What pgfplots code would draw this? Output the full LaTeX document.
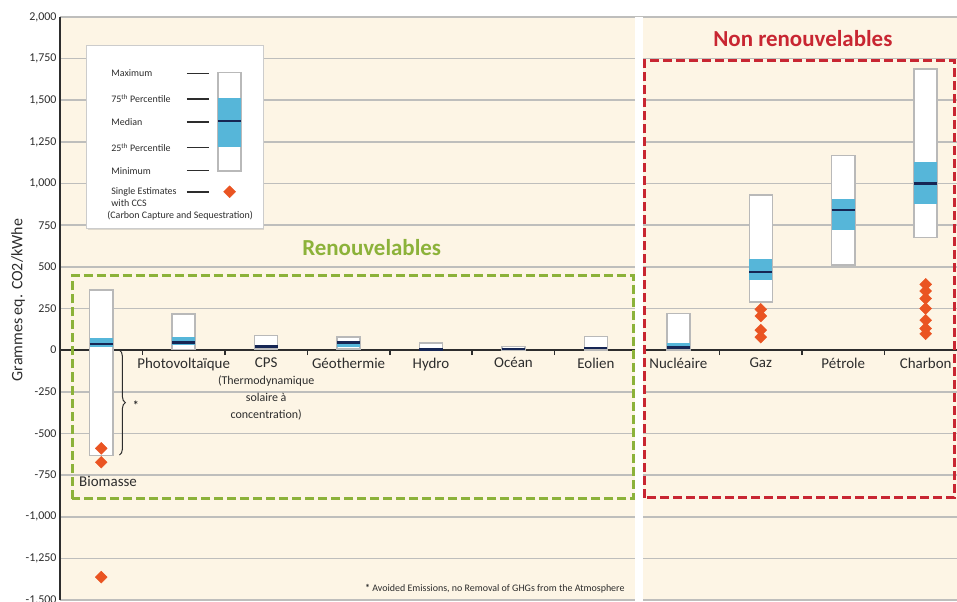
\documentclass[border=0pt]{standalone}
\usepackage{pgfplots}
\pgfplotsset{compat=1.18}
\usepackage{fontspec}
\setmainfont{Carlito}
\usetikzlibrary{decorations.pathreplacing,shadows}
\definecolor{cream}{RGB}{253,245,229}
\definecolor{gridgray}{RGB}{190,190,188}
\definecolor{boxblue}{RGB}{86,182,217}
\definecolor{navy}{RGB}{22,38,84}
\definecolor{diam}{RGB}{234,84,34}
\definecolor{grn}{RGB}{140,178,58}
\definecolor{rd}{RGB}{200,38,50}
\definecolor{boxedge}{RGB}{185,185,185}
\definecolor{txt}{RGB}{45,45,45}

% x min q1 median q3 max
\newcommand{\bx}[6]{%
  \pgfmathsetmacro{\xl}{#1-0.14}\pgfmathsetmacro{\xr}{#1+0.14}%
  \edef\tmpa{\noexpand\addplot[draw=boxedge, fill=white, line width=1.5bp] coordinates {(\xl,#2) (\xr,#2) (\xr,#6) (\xl,#6)} --cycle;}\tmpa
  \edef\tmpb{\noexpand\addplot[draw=none, fill=boxblue] coordinates {(\xl,#3) (\xr,#3) (\xr,#5) (\xl,#5)} --cycle;}\tmpb
  \edef\tmpc{\noexpand\addplot[navy, line width=2.5bp] coordinates {(\xl,#4) (\xr,#4)};}\tmpc
}
\newcommand{\sub}{\fontsize{12}{15}\selectfont}

\begin{document}
\begin{tikzpicture}
\begin{axis}[
  x=82.4bp, y=0.1665bp,
  xmin=-0.5, xmax=10.38, ymin=-1500, ymax=2000,
  axis x line=middle, axis y line=left,
  axis line style={-, line width=1.6bp, txt},
  hide obscured x ticks=false, hide obscured y ticks=false,
  axis background/.style={fill=cream},
  ytick={-1500,-1250,...,2000},
  ymajorgrids, grid style={gridgray, line width=1.6bp},
  xtick={0,...,10},
  xticklabels={{},Photovoltaïque,{CPS\\{\sub(Thermodynamique}\\{\sub solaire à}\\{\sub concentration)}},Géothermie,Hydro,Océan,Eolien,Nucléaire,Gaz,Pétrole,Charbon},
  xticklabel style={font=\fontsize{15}{17}\selectfont, text=txt, align=center, yshift=-4bp},
  yticklabel style={font=\fontsize{12}{14}\selectfont, text=txt},
  minor xtick={0.5,1.5,...,9.5},
  major tick length=0pt, minor tick length=5bp,
  tick align=outside,
  minor tick style={txt, line width=1.5bp},
  major tick style={draw=none},
  ylabel={Grammes eq. CO2/kWhe},
  every axis y label/.style={at={(axis description cs:0,0.5143)}, xshift=-42bp, rotate=90, anchor=center, font=\fontsize{16}{18}\selectfont, text=txt},
  /pgf/number format/assume math mode=true,
  /pgf/number format/1000 sep={,},
]
\coordinate (TL) at (axis cs:-0.5,2000);
\coordinate (BR) at (axis cs:10.38,-1500);

% legend frame
\draw[fill=white, draw=gray!40, line width=0.8bp, drop shadow={opacity=0.25, shadow xshift=1.5bp, shadow yshift=-1.5bp}] (axis cs:-0.182,731) rectangle (axis cs:1.961,1832);

% boxes: x min q1 median q3 max
\bx{0}{-633}{18}{37}{75}{360}
\bx{1}{5}{29}{46}{80}{217}
\bx{2}{7}{14}{22}{32}{89}
\bx{3}{6}{20}{45}{57}{79}
\bx{4}{0}{3}{4}{7}{43}
\bx{5}{2}{6}{8}{9}{23}
\bx{6}{2}{8}{12}{20}{81}
\bx{7}{1}{8}{16}{45}{220}
\bx{8}{290}{422}{469}{548}{930}
\bx{9}{510}{722}{840}{907}{1170}
\bx{10}{675}{877}{1001}{1130}{1689}

% legend sample box
\bx{1.557}{1075}{1217}{1375}{1516}{1668}

% single estimates with CCS
\addplot[only marks, mark=square*, mark size=4.2bp, mark options={rotate=45, fill=diam, draw=diam}] coordinates {
 (0,-590) (0,-673) (0,-1363)
 (8,245) (8,205) (8,120) (8,78)
 (10,395) (10,355) (10,310) (10,250) (10,180) (10,130) (10,98)
};
\addplot[only marks, mark=square*, mark size=4.2bp, mark options={rotate=45, fill=diam, draw=diam}] coordinates {(1.557,951)};

% legend lines and texts
\draw[txt, line width=1.4bp] (axis cs:1.04,1662) -- (axis cs:1.31,1662);
\draw[txt, line width=1.8bp] (axis cs:1.04,1509) -- (axis cs:1.31,1509);
\draw[txt, line width=1.8bp] (axis cs:1.04,1371) -- (axis cs:1.31,1371);
\draw[txt, line width=1.4bp] (axis cs:1.04,1217) -- (axis cs:1.31,1217);
\draw[txt, line width=1.4bp] (axis cs:1.04,1077) -- (axis cs:1.31,1077);
\draw[txt, line width=1.8bp] (axis cs:1.04,951) -- (axis cs:1.31,951);
\node[anchor=west, font=\fontsize{10}{12}\selectfont, text=txt] at (axis cs:0.08,1662) {Maximum};
\node[anchor=west, font=\fontsize{10}{12}\selectfont, text=txt] at (axis cs:0.08,1509) {75\textsuperscript{th} Percentile};
\node[anchor=west, font=\fontsize{10}{12}\selectfont, text=txt] at (axis cs:0.08,1371) {Median};
\node[anchor=west, font=\fontsize{10}{12}\selectfont, text=txt] at (axis cs:0.08,1217) {25\textsuperscript{th} Percentile};
\node[anchor=west, font=\fontsize{10}{12}\selectfont, text=txt] at (axis cs:0.08,1077) {Minimum};
\node[anchor=west, font=\fontsize{10}{12}\selectfont, text=txt] at (axis cs:0.08,951) {Single Estimates};
\node[anchor=west, font=\fontsize{10}{12}\selectfont, text=txt] at (axis cs:0.08,881) {with CCS};
\node[anchor=west, font=\fontsize{10}{12}\selectfont, text=txt] at (axis cs:0.032,805) {(Carbon Capture and Sequestration)};

% group frames
\draw[grn, line width=3bp, dash pattern=on 9bp off 4bp] (axis cs:-0.352,-891) rectangle (axis cs:6.46,446);
\draw[rd, line width=3bp, dash pattern=on 9bp off 4bp] (axis cs:6.59,-885) rectangle (axis cs:10.35,1738);
\node[anchor=base, text=grn, font=\fontsize{23}{26}\selectfont\bfseries] at (axis cs:3.28,571) {Renouvelables};
\node[anchor=base, text=rd, font=\fontsize{23}{26}\selectfont\bfseries] at (axis cs:8.51,1820) {Non renouvelables};

% biomass
\node[anchor=west, text=txt, font=\fontsize{15}{17}\selectfont] at (axis cs:-0.31,-791) {Biomasse};
\draw[txt, line width=1bp, decorate, decoration={brace, amplitude=6bp}] (axis cs:0.22,0) -- (axis cs:0.22,-630);
\node[text=txt, font=\fontsize{12}{12}\selectfont\bfseries] at (axis cs:0.42,-330) {*};
\node[anchor=east, text=txt, font=\fontsize{10}{12}\selectfont] at (axis cs:6.39,-1435) {\textbf{*} Avoided Emissions, no Removal of GHGs from the Atmosphere};

% white gap between panels
\fill[white] (axis cs:6.47,-1510) rectangle (axis cs:6.57,2010);
\end{axis}
\pgfresetboundingbox
\path[use as bounding box] ([shift={(-60bp,17bp)}]TL) rectangle ([shift={(0bp,-1bp)}]BR);
\end{tikzpicture}
\end{document}
